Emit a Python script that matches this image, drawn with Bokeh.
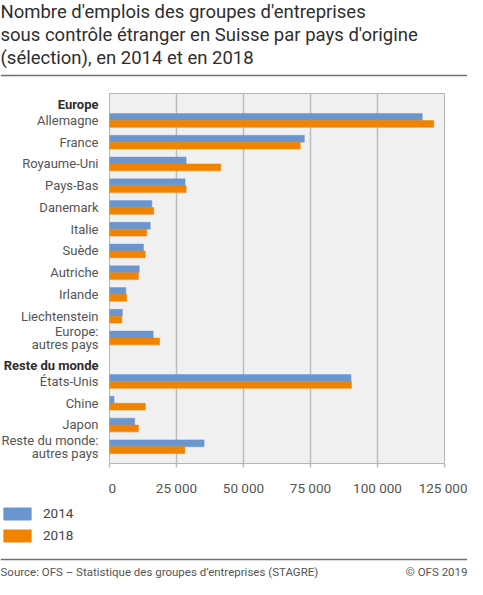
from bokeh.plotting import figure
from bokeh.models import (Range1d, FixedTicker, ColumnDataSource, Legend,
                          LegendItem, Span)
from bokeh.transform import dodge
from bokeh.layouts import column, row
from bokeh.core.properties import value
from bokeh.embed import file_html
from bokeh.resources import INLINE

# ---------------- data ----------------
title_text = ("Nombre d'emplois des groupes d'entreprises\n"
              "sous contrôle étranger en Suisse par pays d'origine\n"
              "(sélection), en 2014 et en 2018")
groups = ["Europe", "Reste du monde"]
countries = ["Allemagne", "France", "Royaume-Uni", "Pays-Bas", "Danemark", "Italie",
             "Suède", "Autriche", "Irlande", "Liechtenstein", "Europe:\nautres pays",
             "États-Unis", "Chine", "Japon", "Reste du monde:\nautres pays"]
country_group = ["Europe"] * 11 + ["Reste du monde"] * 4
v2014 = [116700, 72700, 28600, 28200, 15800, 15200, 12700, 11100, 6100, 4800, 16300,
         90100, 1700, 9400, 35300]
v2018 = [121000, 71200, 41500, 28600, 16500, 13900, 13300, 10800, 6400, 4600, 18700,
         90300, 13400, 10800, 28100]
series_names = ["2014", "2018"]
x_ticks = [0, 25000, 50000, 75000, 100000, 125000]
source_text = "Source: OFS – Statistique des groupes d’entreprises (STAGRE)"
copyright_text = "© OFS 2019"

# ---------------- build rows ----------------
rows_label, rows_y, rows_14, rows_18 = [], [], [], []
head_label, head_y = [], []
r = 0
for g in groups:
    head_label.append(g)
    head_y.append(r)
    r += 1
    for c, grp, a, b in zip(countries, country_group, v2014, v2018):
        if grp == g:
            rows_label.append(c)
            rows_y.append(r)
            rows_14.append(a)
            rows_18.append(b)
            r += 1

src = ColumnDataSource(dict(y=rows_y, label=rows_label, v14=rows_14, v18=rows_18,
                            x=[1] * len(rows_y)))
hsrc = ColumnDataSource(dict(y=head_y, label=head_label, x=[1] * len(head_y)))

FONT = "Roboto"
VFONT = value(FONT)
W = 467
LABW = 108
BLUE = "#6a96d0"
ORANGE = "#f08300"
TOP_H = 81
MB_TOP, FRAME_H, MB_BOTTOM = 12, 378, 27
MAIN_H = MB_TOP + FRAME_H + MB_BOTTOM
FOOT_H = 579 - TOP_H - MAIN_H

# ---------------- title figure ----------------
tf = figure(width=W, height=TOP_H, x_range=Range1d(0, W), y_range=Range1d(TOP_H, 0),
            toolbar_location=None, output_backend="svg", min_border=0,
            x_axis_location=None, y_axis_location=None, outline_line_color=None)
tf.frame_align = False
tf.grid.visible = False
tf.text(x=[0], y=[0], text=[title_text], text_baseline="top", text_align="left",
        text_font=VFONT, text_font_size="18.5px", text_line_height=1.05,
        text_color="#2e2e2e")
tf.add_layout(Span(location=TOP_H - 6, dimension="width", line_color="#707070",
                   line_width=1.5))

# ---------------- main figure ----------------
yr = Range1d(16.77, -0.24)
p = figure(width=W - LABW, height=MAIN_H, x_range=Range1d(0, 125000), y_range=yr,
           toolbar_location=None, output_backend="svg", y_axis_location=None,
           min_border_left=1, min_border_right=23, min_border_top=MB_TOP,
           min_border_bottom=MB_BOTTOM)
p.background_fill_color = "#f0f0f0"
p.outline_line_color = "#b5b5b5"
p.outline_line_width = 1

p.hbar(y=dodge("y", -0.158), right="v14", left=0, height=0.316, source=src,
       fill_color=BLUE, line_color=BLUE, line_width=0.5)
p.hbar(y=dodge("y", 0.158), right="v18", left=0, height=0.316, source=src,
       fill_color=ORANGE, line_color=ORANGE, line_width=0.5)

p.xaxis.ticker = FixedTicker(ticks=x_ticks)
p.xaxis.major_label_overrides = {t: f"{t:,}".replace(",", " ") for t in x_ticks}
p.xaxis.axis_line_color = None
p.xaxis.major_tick_out = 4
p.xaxis.major_tick_in = 0
p.xaxis.major_tick_line_color = "#bcbcbc"
p.xaxis.major_tick_line_width = 1.5
p.xaxis.minor_tick_line_color = None
p.xaxis.major_label_standoff = 12
p.xaxis.major_label_text_font = FONT
p.xaxis.major_label_text_font_size = "13.5px"
p.xaxis.major_label_text_color = "#555555"

p.ygrid.visible = False
p.xgrid.ticker = FixedTicker(ticks=x_ticks)
p.xgrid.grid_line_color = "#bcbcbc"
p.xgrid.grid_line_width = 1.5

# ---------------- category label figure (shares y scale) ----------------
lf = figure(width=LABW, height=MAIN_H, x_range=Range1d(0, 1), y_range=yr,
            toolbar_location=None, output_backend="svg", min_border_left=0,
            min_border_right=0, min_border_top=MB_TOP, min_border_bottom=MB_BOTTOM,
            x_axis_location=None, y_axis_location=None, outline_line_color=None)
lf.grid.visible = False
lf.text(x="x", y="y", text="label", source=src, x_offset=-10,
        text_align="right", text_baseline="middle", text_font=VFONT,
        text_font_size="13px", text_color="#555555", text_line_height=0.88)
lf.text(x="x", y="y", text="label", source=hsrc, x_offset=-10, y_offset=6,
        text_align="right", text_baseline="middle", text_font=VFONT,
        text_font_size="13px", text_font_style="bold", text_color="#2e2e2e")

# ---------------- footer figure (legend + source) ----------------
ff = figure(width=W, height=FOOT_H, x_range=Range1d(0, W), y_range=Range1d(FOOT_H, 0),
            toolbar_location=None, output_backend="svg", min_border=0,
            x_axis_location=None, y_axis_location=None, outline_line_color=None)
ff.frame_align = False
ff.grid.visible = False
l14 = ff.hbar(y="y", right="v14", left=0, height=0.3, source=src, fill_color=BLUE,
              line_color=BLUE, visible=False)
l18 = ff.hbar(y="y", right="v18", left=0, height=0.3, source=src, fill_color=ORANGE,
              line_color=ORANGE, visible=False)
legend = Legend(items=[LegendItem(label=series_names[0], renderers=[l14]),
                       LegendItem(label=series_names[1], renderers=[l18])],
                location=(0, FOOT_H - 45), orientation="vertical",
                glyph_width=34, glyph_height=15, spacing=6, label_standoff=9,
                padding=0, margin=0, border_line_color=None, background_fill_alpha=0,
                label_text_font=FONT, label_text_font_size="13.5px",
                label_text_color="#444444", inactive_fill_alpha=0)
ff.add_layout(legend)
ff.add_layout(Span(location=FOOT_H - 20, dimension="width", line_color="#707070",
                   line_width=1.5))
ff.text(x=[0], y=[FOOT_H - 8], text=[source_text], text_baseline="middle",
        text_align="left", text_font=VFONT, text_font_size="11.5px", text_color="#555555")
ff.text(x=[W], y=[FOOT_H - 8], text=[copyright_text], text_baseline="middle",
        text_align="right", text_font=VFONT, text_font_size="11.5px", text_color="#555555")

layout = column(tf, row(lf, p, spacing=0), ff, spacing=0)
open("out.html", "w").write(file_html(layout, INLINE))
